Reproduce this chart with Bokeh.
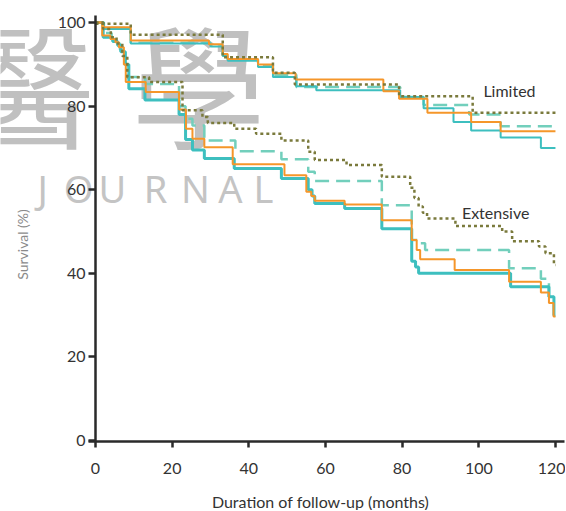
import math
from bokeh.plotting import figure
from bokeh.models import Range1d, FixedTicker, Label
from bokeh.embed import file_html
from bokeh.resources import INLINE

# ---------------- data (months, survival %) ----------------
lim_orange_t = [0, 2, 9.2, 29.6, 33.2, 34.5, 42.4, 46.3, 52.2, 75.1, 79.2, 86.6, 98, 105.7, 120]
lim_orange_s = [100, 98.9, 95.7, 94.8, 92.5, 91.3, 90, 87.9, 86.4, 83.6, 81.8, 78.4, 76.2, 74, 74]

lim_cyan_t = [0, 2.2, 9.2, 30, 33.2, 34.5, 42.4, 46.3, 52.4, 57.6, 79.5, 85.6, 93.4, 98, 105.7, 116.2, 120]
lim_cyan_s = [100, 98.5, 95, 94.3, 92, 90.9, 89.4, 87, 84.8, 83.8, 82.2, 79.5, 76.2, 74.2, 72.5, 70, 70]

lim_dash_t = [0, 2.2, 9.2, 30, 33.2, 34.5, 42.4, 46.3, 52.4, 79.5, 85.6, 97.5, 105.7, 120]
lim_dash_s = [100, 98.7, 95.2, 94.5, 92.2, 91.2, 89.8, 87.5, 84.6, 82.2, 80.3, 78, 75.2, 75.2]

lim_dot_t = [0, 9.2, 33.2, 46.3, 52, 79.2, 98.4, 120]
lim_dot_s = [99.7, 97.1, 91.7, 88, 85.2, 82.4, 78.4, 78.4]

ext_orange_t = [0, 1.75, 3.9, 5.2, 6.1, 7.4, 7.9, 13.1, 21.8, 23.6, 25.3, 28.4, 35.8, 49.3, 55, 56.3, 57.2,
                65, 74.7, 82.5, 83.8, 84.7, 93.7, 107.9, 116.2, 118.3, 119.5, 120]
ext_orange_s = [100, 96.9, 96.1, 95.3, 94.1, 90, 85.8, 83.4, 79.2, 74.6, 72.2, 70.2, 66.1, 63.5, 59.5, 58.5, 57.4,
                56.5, 52.7, 48, 45.6, 43.4, 40.8, 38, 35.4, 32.9, 29.7, 29.7]

ext_cyan_t = [0, 2, 4.5, 5.8, 6.6, 7.8, 8.7, 12.9, 21.8, 23.5, 25.3, 28.4, 36.2, 48.5, 55.5, 56.5, 57.2,
              65, 74.7, 82.5, 83.5, 84.3, 108.3, 118.3, 119.6, 120]
ext_cyan_s = [100, 96.5, 95.5, 94.5, 93, 90, 84.2, 81.5, 78, 72, 69.5, 67.5, 65.1, 62.7, 60, 58.5, 56.7,
              55.5, 50.7, 42.9, 41.5, 40, 36.8, 34.4, 30, 30]

ext_dash_t = [0, 1.9, 4.2, 5.5, 6.4, 7.6, 8.4, 13, 21.8, 23.5, 25.3, 28.4, 36.5, 48.5, 55.5, 57.2,
              74.7, 82.5, 84.3, 86, 107.9, 116.2, 118.3, 120]
ext_dash_s = [100, 97.5, 96, 95, 93.5, 90, 87, 85.3, 80, 77, 75.4, 71.8, 69.2, 67.3, 64.3, 62.1,
              56.3, 48, 47.2, 45.6, 41.2, 38.7, 34.4, 34.4]

ext_dot_t = [0, 2, 4, 5.5, 7, 8.3, 14, 22.7, 27.9, 29.3, 36.2, 41.9, 48.5, 55.5, 57.2, 65.5, 74.7,
             82.1, 83.2, 84.3, 85.4, 86.5, 93.9, 106.1, 108.7, 115.7, 117.4, 119.6, 120]
ext_dot_s = [100, 98.5, 96.5, 95, 92, 86.9, 85.8, 79, 77.4, 76, 74.6, 73.4, 71.8, 69.1, 67.1, 65.9, 63.1,
             60.5, 58, 56, 54.5, 53.1, 51.3, 50, 47.7, 46.4, 44.8, 42, 42]

x_ticks = [0, 20, 40, 60, 80, 100, 120]
y_ticks = [0, 20, 40, 60, 80, 100]
x_title = "Duration of follow-up (months)"
y_title = "Survival (%)"
group_labels = ["Limited", "Extensive"]
group_label_pos = [(108, 83.8), (104.4, 54.6)]

# background watermark of the source page
wm_chars = ["醫", "學"]
wm_chars_pos = [(-17.7, 86.1), (26.9, 86.1)]
wm_word = ["J", "O", "U", "R", "N", "A", "L"]
wm_word_x = [-13.8, -4.4, 4.4, 15.7, 26.1, 35.2, 43.8]
wm_word_y = 60.5

ORANGE = "#F5962A"
CYAN = "#3DBFBF"
TEAL = "#72CFBC"
OLIVE = "#7A7A3C"
AXIS = "#2a2a2a"
FONT = "Lato"

# the frame covers the whole canvas; both axes are pinned at the data origin
p = figure(width=565, height=510, output_backend="svg", toolbar_location=None,
           x_range=Range1d(-24.78, 122.62), y_range=Range1d(-16.75, 105.29),
           min_border_left=0, min_border_top=0, min_border_right=0, min_border_bottom=0)
p.outline_line_color = None
p.grid.visible = False
p.background_fill_color = "white"
p.border_fill_color = "white"

# watermark (underneath everything)
for ch, (wx, wy) in zip(wm_chars, wm_chars_pos):
    p.add_layout(Label(x=wx, y=wy, text=ch, text_align="center", text_baseline="middle",
                       text_font="Noto Sans CJK TC", text_font_size="134px", text_color="#c0c0c0",
                       level="underlay"))
for ch, wx in zip(wm_word, wm_word_x):
    p.add_layout(Label(x=wx, y=wm_word_y, text=ch, text_align="center", text_baseline="middle",
                       text_font="Noto Sans", text_font_size="38px", text_color="#c4c4c4",
                       level="underlay"))

# curves
p.step(lim_dash_t, lim_dash_s, mode="after", line_color=TEAL, line_width=2.5, line_dash="14 7")
p.step(ext_dash_t, ext_dash_s, mode="after", line_color=TEAL, line_width=2.5, line_dash="14 7")
p.step(lim_cyan_t, lim_cyan_s, mode="after", line_color=CYAN, line_width=2)
p.step(ext_cyan_t, ext_cyan_s, mode="after", line_color=CYAN, line_width=3)
p.step(lim_orange_t, lim_orange_s, mode="after", line_color=ORANGE, line_width=2)
p.step(ext_orange_t, ext_orange_s, mode="after", line_color=ORANGE, line_width=2)
p.step(lim_dot_t, lim_dot_s, mode="after", line_color=OLIVE, line_width=2.5, line_dash="3 3")
p.step(ext_dot_t, ext_dot_s, mode="after", line_color=OLIVE, line_width=2.5, line_dash="3 3")

for txt, (tx, ty) in zip(group_labels, group_label_pos):
    p.add_layout(Label(x=tx, y=ty, text=txt, text_align="center", text_baseline="middle",
                       text_font=FONT, text_font_size="16px", text_color="#333333"))

# axis titles placed as in the source
p.add_layout(Label(x=-19.0, y=46.9, text=y_title, angle=math.pi / 2, text_align="center",
                   text_baseline="middle", text_font=FONT, text_font_size="14px", text_color="#8a8a8a"))
p.add_layout(Label(x=58.7, y=-14.6, text=x_title, text_align="center", text_baseline="middle",
                   text_font=FONT, text_font_size="16px", text_color="#333333"))

# axes
for ax in (p.xaxis[0], p.yaxis[0]):
    ax.axis_line_width = 2.5
    ax.axis_line_color = AXIS
    ax.major_tick_line_width = 2.5
    ax.major_tick_line_color = AXIS
    ax.minor_tick_line_color = None
    ax.major_tick_in = 0
    ax.major_label_text_font = FONT
    ax.major_label_text_font_size = "16px"
    ax.major_label_text_color = "#333333"

p.xaxis.ticker = FixedTicker(ticks=x_ticks)
p.xaxis.fixed_location = -0.24
p.xaxis.bounds = (-1.8, 122.36)
p.xaxis.major_tick_out = 6
p.xaxis.major_label_standoff = 15

p.yaxis.ticker = FixedTicker(ticks=y_ticks)
p.yaxis.fixed_location = 0
p.yaxis.bounds = (-0.24, 101.7)
p.yaxis.major_tick_out = 7
p.yaxis.major_label_standoff = 3

open("out.html", "w").write(file_html(p, INLINE))
